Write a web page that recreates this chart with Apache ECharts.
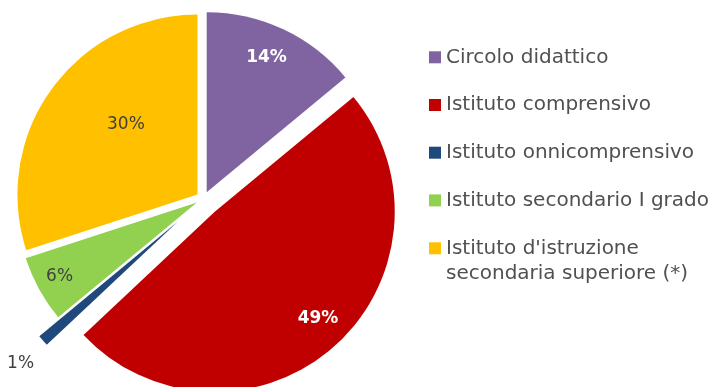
<!DOCTYPE html>
<html>
<head>
<meta charset="utf-8">
<script src="https://cdn.jsdelivr.net/npm/echarts@6/dist/echarts.min.js"></script>
<style>
  html, body { margin: 0; padding: 0; background: #ffffff; }
  #chart { width: 718px; height: 387px; }
</style>
</head>
<body>
<div id="chart"></div>
<script>
// Categories of school institutions and their shares (%)
const categories = [
  'Circolo didattico',
  'Istituto comprensivo',
  'Istituto onnicomprensivo',
  'Istituto secondario I grado',
  "Istituto d'istruzione\nsecondaria superiore (*)"
];
const shares = [14, 49, 1, 6, 30];
const sliceColors = ['#8064A2', '#C00000', '#1F497D', '#92D050', '#FFC000'];

// Geometry of the pie (pixels)
const R = 180, CX = 203.5, CY = 199;
// How far each slice is pulled out of the pie
const explode = [7.5, 17, 34, 7.5, 7.5];
// Label anchors: [fraction of radius, angle clockwise from 12 o'clock]
const labelAnchor = [[0.80, 24], [0.81, 136], [1.16, 228], [0.85, 241.7], [0.54, 314.7]];
const labelOnDark = [true, true, false, false, false];

const total = shares.reduce((a, b) => a + b, 0);
const midAngle = [];
let acc = 0;
shares.forEach(v => { midAngle.push((acc + v / 2) / total * 360); acc += v; });
const rad = d => d * Math.PI / 180;

function labelShift(i) {
  // inside labels start at R/2 along the slice bisector; move them to the anchor
  const [f, a] = labelAnchor[i];
  const m = midAngle[i];
  return {
    dx: f * R * Math.sin(rad(a)) - R / 2 * Math.sin(rad(m)),
    dy: -f * R * Math.cos(rad(a)) + R / 2 * Math.cos(rad(m))
  };
}

// one pie layer per explosion distance; slices of other layers stay invisible
const offsets = [...new Set(explode)];
const series = offsets.map(off => ({
  type: 'pie',
  center: [CX, CY],
  radius: R,
  startAngle: 90,
  clockwise: true,
  selectedMode: 'multiple',
  selectedOffset: off,
  avoidLabelOverlap: false,
  silent: true,
  emphasis: { disabled: true },
  select: { itemStyle: { borderWidth: 0 } },
  labelLine: { show: false },
  data: shares.map((v, i) => {
    const on = explode[i] === off;
    return {
      name: categories[i],
      value: v,
      selected: on,
      itemStyle: { color: on ? sliceColors[i] : 'rgba(0,0,0,0)', borderWidth: 0 },
      label: {
        show: on,
        position: 'inside',
        formatter: v + '%',
        fontFamily: 'DejaVu Sans',
        fontSize: 17,
        fontWeight: labelOnDark[i] ? 'bold' : 'normal',
        color: labelOnDark[i] ? '#ffffff' : '#404040'
      }
    };
  }),
  labelLayout: p => {
    const s = labelShift(p.dataIndex);
    return { dx: s.dx, dy: s.dy };
  }
}));

const legendText = { fontFamily: 'DejaVu Sans', fontSize: 20, color: '#505050', lineHeight: 25 };
const legendBase = {
  orient: 'vertical',
  left: 429,
  padding: 0,
  itemWidth: 12,
  itemHeight: 12,
  itemGap: 22.7,
  icon: 'rect',
  selectedMode: false,
  textStyle: legendText,
  // keep the first line of a two-line entry level with its marker
  formatter: name => name.indexOf('\n') >= 0 ? '\n' + name : name
};

const chart = echarts.init(document.getElementById('chart'), null, { renderer: 'canvas' });
chart.setOption({
  animation: false,
  backgroundColor: '#ffffff',
  legend: [
    Object.assign({}, legendBase, {
      top: 44.8,
      data: categories.slice(0, 4).map((n, i) => ({ name: n, itemStyle: { color: sliceColors[i] } }))
    }),
    Object.assign({}, legendBase, {
      top: 210.8,
      data: [{ name: categories[4], itemStyle: { color: sliceColors[4] } }]
    })
  ],
  series: series
});
</script>
</body>
</html>
